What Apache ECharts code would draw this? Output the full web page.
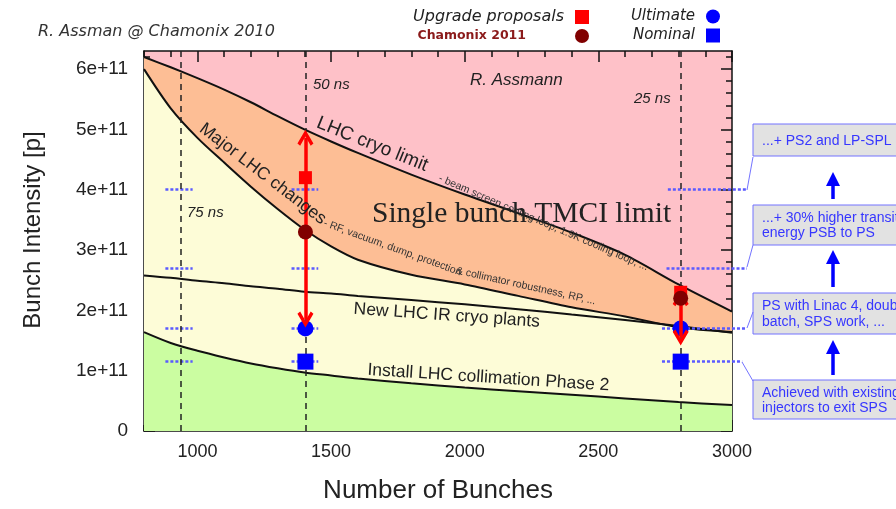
<!DOCTYPE html>
<html>
<head>
<meta charset="utf-8">
<script src="https://cdn.jsdelivr.net/npm/echarts@6/dist/echarts.min.js"></script>
<style>
  html, body { margin: 0; padding: 0; background: #fff; }
  #chart { width: 896px; height: 509px; }
</style>
</head>
<body>
<div id="chart"></div>
<script>
const bunches = [800, 900, 1000, 1100, 1200, 1300, 1400, 1500, 1600, 1800, 2000, 2200, 2400, 2600, 2800, 3000];
// bunch intensity limits, in units of 1e11 protons
const cryoLimit    = [6.20, 6.03, 5.85, 5.66, 5.45, 5.22, 5.00, 4.80, 4.61, 4.25, 3.92, 3.61, 3.29, 2.92, 2.43, 1.98];
const majorChanges = [6.00, 5.35, 4.86, 4.45, 4.05, 3.68, 3.34, 3.06, 2.84, 2.59, 2.43, 2.24, 2.05, 1.90, 1.72, 1.64];
const irCryo       = [2.58, 2.54, 2.49, 2.45, 2.40, 2.36, 2.31, 2.28, 2.24, 2.17, 2.10, 2.02, 1.93, 1.84, 1.74, 1.63];
const collimation  = [1.64, 1.46, 1.33, 1.22, 1.12, 1.04, 0.97, 0.92, 0.87, 0.79, 0.72, 0.66, 0.60, 0.54, 0.48, 0.43];

// bunch spacing scenarios: 75 ns, 50 ns, 25 ns
const spacing = [936, 1404, 2808];

// operating points
const pointX    = [1404, 2808];
const upgrade   = [4.2, 2.3];
const chamonix  = [3.3, 2.2];
const ultimate  = [1.7, 1.7];
const nominal   = [1.15, 1.15];

// red double arrows: bunches, from, to
const arrowX    = [1404, 2808];
const arrowFrom = [1.85, 1.55];
const arrowTo   = [4.86, 2.2];

// blue dotted intensity levels and their spans
const guideLevels = [4.0, 2.7, 1.7, 1.15];
const guide75 = [880, 982];
const guide50 = [1352, 1452];
const guide25 = [[2760, 3058], [2755, 3056], [2738, 3056], [2738, 3038]];

// axis ticks
const xTicks = [1000, 1500, 2000, 2500, 3000];
const yTicks = [0, 1, 2, 3, 4, 5, 6];

const minorX = [];
for (let v = 800; v <= 3000; v += 100) minorX.push(v);
const minorY = [];
for (let i = 0; i <= 31; i++) minorY.push(+(i * 0.2).toFixed(1));

const pts = ys => bunches.map((b, i) => [b, ys[i]]);

function curve(name, ys, fill) {
    const s = {
        name: name, type: 'line', data: pts(ys), smooth: 0.3, symbol: 'none', silent: true, z: 1,
        lineStyle: { color: '#111', width: 2 }
    };
    if (fill) s.areaStyle = { color: fill, opacity: 1, origin: 'start' };
    return s;
}

function xAx(pos, ticks, len, line) {
    return {
        type: 'value', min: 800, max: 3000, position: pos,
        axisLine: { show: line, onZero: false, lineStyle: { color: '#111', width: 1.5 } },
        axisTick: { show: true, inside: true, length: len, customValues: ticks, lineStyle: { color: '#111', width: 1.5 } },
        axisLabel: { show: false }, splitLine: { show: false }
    };
}

function yAx(pos, ticks, len, line) {
    return {
        type: 'value', min: 0, max: 6.3, position: pos,
        axisLine: { show: line, onZero: false, lineStyle: { color: '#111', width: 1.5 } },
        axisTick: { show: true, inside: true, length: len, customValues: ticks, lineStyle: { color: '#111', width: 1.5 } },
        axisLabel: { show: false }, splitLine: { show: false }
    };
}

const xMain = xAx('bottom', xTicks, 11, true);
xMain.axisLabel = {
    show: true, customValues: xTicks, margin: 12,
    fontFamily: 'Liberation Sans', fontSize: 18, color: '#222',
    formatter: v => String(v)
};
xMain.name = 'Number of Bunches';
xMain.nameLocation = 'middle';
xMain.nameGap = 47;
xMain.nameTextStyle = { fontFamily: 'Liberation Sans', fontSize: 26, color: '#222' };

const yMain = yAx('left', yTicks, 11, true);
yMain.axisLabel = {
    show: true, customValues: yTicks, margin: 16,
    fontFamily: 'Liberation Sans', fontSize: 19, color: '#222',
    formatter: v => (v === 0 ? '0' : v + 'e+11')
};
yMain.name = 'Bunch Intensity [p]';
yMain.nameLocation = 'middle';
yMain.nameRotate = 90;
yMain.nameGap = 99;
yMain.nameTextStyle = { fontFamily: 'Liberation Sans', fontSize: 24, color: '#222', padding: [0, 0, 0, 22] };

// guides
const guideLines = [];
guideLevels.forEach((lvl, i) => {
    guideLines.push({ coords: [[guide75[0], lvl], [guide75[1], lvl]] });
    guideLines.push({ coords: [[guide50[0], lvl], [guide50[1], lvl]] });
    guideLines.push({ coords: [[guide25[i][0], lvl], [guide25[i][1], lvl]] });
});

const arrowLines = arrowX.map((x, i) => ({ coords: [[x, arrowFrom[i]], [x, arrowTo[i]]] }));

// open chevron arrow head
const chevron = 'path://M5,0 L10,8.6 L8.3,10 L5,4.2 L1.7,10 L0,8.6 Z';

// annotation helpers; cw = clockwise angle in degrees
function txt(text, x, y, cw, font, color, valign) {
    return {
        type: 'text', x: x, y: y, rotation: -(cw || 0) * Math.PI / 180, z: 100, silent: true,
        style: {
            text: text, font: font, fill: color || '#222',
            textAlign: 'left', align: 'left',
            textVerticalAlign: valign || 'bottom', verticalAlign: valign || 'bottom'
        }
    };
}
function box(y, h) {
    return {
        type: 'rect', z: 100, silent: true,
        shape: { x: 753, y: y, width: 200, height: h },
        style: { fill: '#e2e2e2', stroke: '#7373ff', lineWidth: 1 }
    };
}
function connector(points) {
    return {
        type: 'polyline', z: 100, silent: true,
        shape: { points: points },
        style: { stroke: '#7373ff', lineWidth: 1, fill: null }
    };
}
function upArrow(x, y0, y1) {
    return [
        { type: 'line', z: 100, silent: true, shape: { x1: x, y1: y0, x2: x, y2: y1 + 10 }, style: { stroke: '#0000ff', lineWidth: 3.5 } },
        { type: 'polygon', z: 100, silent: true, shape: { points: [[x, y1], [x - 7, y1 + 14], [x + 7, y1 + 14]] }, style: { fill: '#0000ff' } }
    ];
}

const boxFont = '14px "Liberation Sans"';
const boxColor = '#3636ff';
const smallFont = '10.5px "Liberation Sans"';
const curveFont = '17.5px "Liberation Sans"';

const graphics = [
    txt('R. Assman @ Chamonix 2010', 38, 32, 0, 'oblique 16px "DejaVu Sans"', '#333', 'middle'),
    txt('R. Assmann', 470, 80, 0, 'italic 17px "Liberation Sans"', '#222', 'middle'),
    txt('50 ns', 313, 85, 0, 'italic 15px "Liberation Sans"', '#222', 'middle'),
    txt('25 ns', 634, 99, 0, 'italic 15px "Liberation Sans"', '#222', 'middle'),
    txt('75 ns', 187, 213, 0, 'italic 15px "Liberation Sans"', '#222', 'middle'),
    txt('LHC cryo limit', 314, 131, 22, '19px "Liberation Sans"', '#222'),
    txt('- beam screen cooling loop, 1.9K cooling loop, ...', 437, 183, 23.3, smallFont, '#333'),
    txt('Major LHC changes', 196, 134, 37.5, curveFont, '#222'),
    txt('- RF, vacuum, dump, protection', 322, 228, 20, smallFont, '#333'),
    txt('& collimator robustness, RP, ...', 455, 276, 12.5, smallFont, '#333'),
    txt('New LHC IR cryo plants', 353, 318, 4, curveFont, '#222'),
    txt('Install LHC collimation Phase 2', 367, 379, 3.7, curveFont, '#222'),
    txt('Single bunch TMCI limit', 372, 229, 0, '29.5px "Liberation Serif"', '#222'),

    box(124, 32), box(205, 40), box(293, 41), box(380, 39),
    txt('...+ PS2 and LP-SPL', 762, 141, 0, boxFont, boxColor, 'middle'),
    txt('...+ 30% higher transition', 762, 218, 0, boxFont, boxColor, 'middle'),
    txt('energy PSB to PS', 762, 233, 0, boxFont, boxColor, 'middle'),
    txt('PS with Linac 4, double', 762, 306, 0, boxFont, boxColor, 'middle'),
    txt('batch, SPS work, ...', 762, 322, 0, boxFont, boxColor, 'middle'),
    txt('Achieved with existing', 762, 393, 0, boxFont, boxColor, 'middle'),
    txt('injectors to exit SPS', 762, 408, 0, boxFont, boxColor, 'middle'),
    connector([[747, 190], [753, 157]]),
    connector([[747, 267], [753, 245]]),
    connector([[747, 328], [753, 312]]),
    connector([[742, 362], [753, 381]])
].concat(upArrow(833, 199, 172), upArrow(833, 287, 250), upArrow(833, 375, 340));

const chart = echarts.init(document.getElementById('chart'));

const option = {
    animation: false,
    backgroundColor: '#fff',
    grid: { left: 144, top: 51, width: 588, height: 382, show: true, backgroundColor: '#fec1c8', borderWidth: 0 },
    xAxis: [xMain, xAx('bottom', minorX, 6, false), xAx('top', xTicks, 11, true), xAx('top', minorX, 6, false)],
    yAxis: [yMain, yAx('left', minorY, 6, false), yAx('right', yTicks, 11, true), yAx('right', minorY, 6, false)],
    legend: [
        {
            orient: 'vertical', align: 'right', right: 302, top: 4, itemGap: 4,
            itemWidth: 14, itemHeight: 14,
            textStyle: { fontFamily: 'DejaVu Sans', fontStyle: 'oblique', fontSize: 16, color: '#222', padding: [0, 6, 0, 0] },
            data: [
                { name: 'Upgrade proposals' },
                { name: 'Chamonix 2011', textStyle: { fontFamily: 'DejaVu Sans', fontStyle: 'normal', fontWeight: 'bold', fontSize: 12.5, color: '#8b1a1a', padding: [0, 44, 0, 0] } }
            ]
        },
        {
            orient: 'vertical', align: 'right', right: 171, top: 4, itemGap: 4,
            itemWidth: 14, itemHeight: 14,
            textStyle: { fontFamily: 'DejaVu Sans', fontStyle: 'oblique', fontSize: 15, color: '#222', padding: [0, 6, 0, 0] },
            data: [{ name: 'Ultimate' }, { name: 'Nominal' }]
        }
    ],
    series: [
        curve('LHC cryo limit', cryoLimit, '#fdbe95'),
        curve('Major LHC changes', majorChanges, '#fdfcd7'),
        curve('Install LHC collimation Phase 2', collimation, '#cbfda1'),
        curve('New LHC IR cryo plants', irCryo, null),
        {
            name: 'spacing', type: 'line', data: [], silent: true, z: 3,
            markLine: {
                silent: true, symbol: ['none', 'none'], label: { show: false },
                lineStyle: { color: '#222', type: [6, 5], width: 1.5 },
                data: spacing.map(x => ({ xAxis: x }))
            }
        },
        {
            name: 'levels', type: 'lines', coordinateSystem: 'cartesian2d', clip: false, silent: true, z: 4,
            lineStyle: { color: '#5a5aff', width: 2.5, type: [3, 2], opacity: 1 },
            data: guideLines
        },
        {
            name: 'Nominal', type: 'scatter', symbol: 'rect', symbolSize: 16, z: 5,
            itemStyle: { color: '#0000ff', opacity: 1 }, data: pointX.map((x, i) => [x, nominal[i]])
        },
        {
            name: 'Ultimate', type: 'scatter', symbol: 'circle', symbolSize: 16, z: 5,
            itemStyle: { color: '#0000ff', opacity: 1 }, data: pointX.map((x, i) => [x, ultimate[i]])
        },
        {
            name: 'arrows', type: 'lines', coordinateSystem: 'cartesian2d', silent: true, z: 6,
            symbol: [chevron, chevron], symbolSize: [16, 16],
            lineStyle: { color: '#ff0000', width: 3.5, opacity: 1 },
            data: arrowLines
        },
        {
            name: 'Upgrade proposals', type: 'scatter', symbol: 'rect', symbolSize: 13, z: 7,
            itemStyle: { color: '#ff0000', opacity: 1 }, data: pointX.map((x, i) => [x, upgrade[i]])
        },
        {
            name: 'Chamonix 2011', type: 'scatter', symbol: 'circle', symbolSize: 15, z: 8,
            itemStyle: { color: '#800000', opacity: 1 }, data: pointX.map((x, i) => [x, chamonix[i]])
        }
    ],
    graphic: graphics
};

chart.setOption(option);
</script>
</body>
</html>
